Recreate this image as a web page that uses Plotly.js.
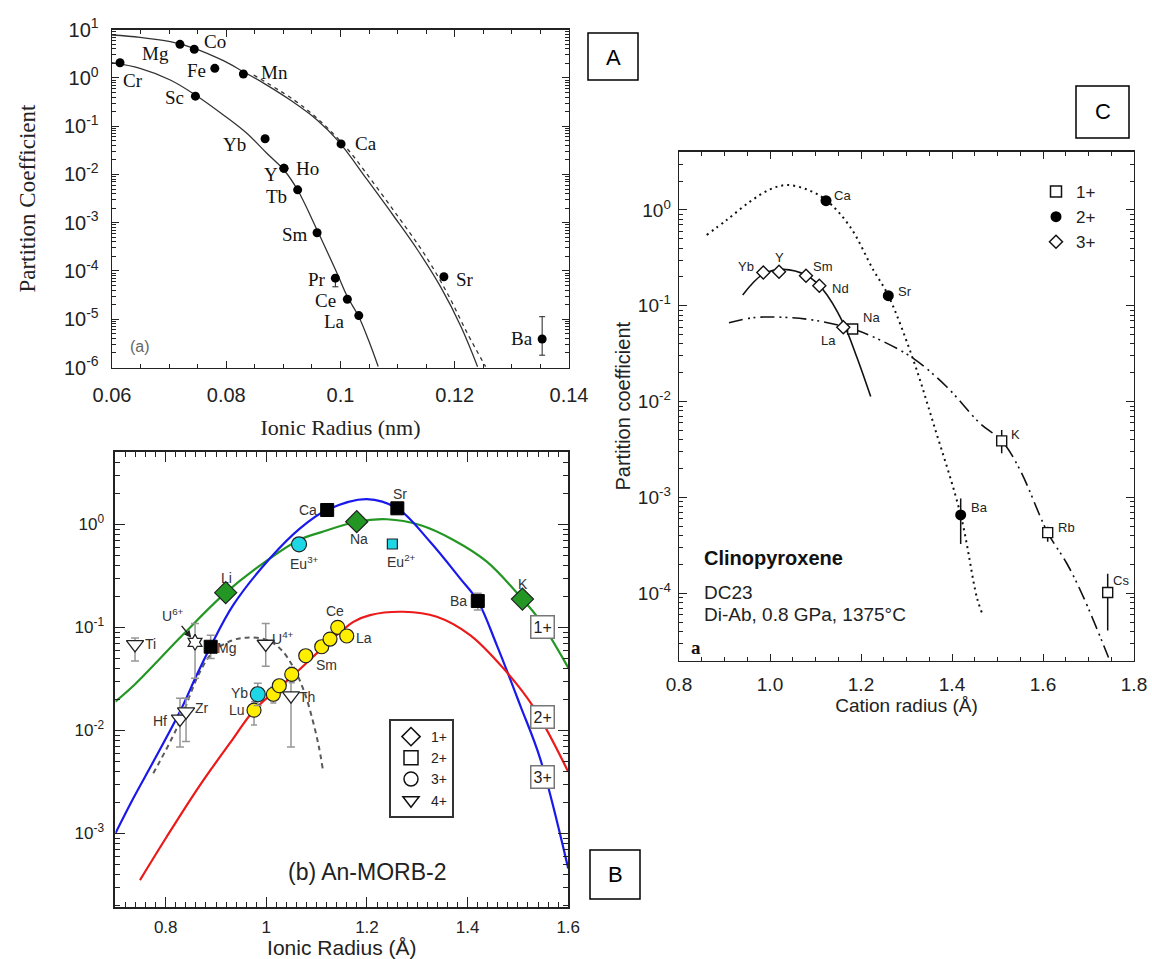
<!DOCTYPE html>
<html>
<head>
<meta charset="utf-8">
<script src="https://cdn.plot.ly/plotly-3.0.1.min.js"></script>
<style>
html,body{margin:0;padding:0;background:#ffffff;}
#chart{width:1152px;height:959px;}
</style>
</head>
<body>
<div id="chart"></div>
<script>
// ================= DATA =================
// ---- Panel A : partition coefficient vs ionic radius (nm)
const aNames  = ["Cr","Mg","Co","Fe","Mn","Sc","Yb","Y","Ho","Tb","Sm","Pr","Ce","La","Ca","Sr","Ba"];
const aRadius = [0.0614,0.0719,0.0744,0.0780,0.0830,0.0746,0.0868,0.0901,0.0901,0.0925,0.0959,0.0991,0.1012,0.1032,0.1001,0.1181,0.1353];
const aKd     = [2.07,4.98,3.93,1.58,1.21,0.42,0.055,0.0134,0.0134,0.0048,6.2e-4,7.1e-5,2.6e-5,1.19e-5,0.043,7.6e-5,3.9e-6];
const aErrPlus  = [0,0,0,0,0,0,0,0,0,0,0,1.0e-5,0,0,0,0,7.4e-6];
const aErrMinus = [0,0,0,0,0,0,0,0,0,0,0,2.4e-5,0,0,0,0,2.1e-6];

const aFit2Radius = [0.0600,0.0649,0.0702,0.0744,0.0795,0.0830,0.0866,0.0912,0.0959,0.0997,0.1047,0.1094,0.1135,0.1175,0.1211,0.1240];
const aFit2Kd     = [7.76,6.95,5.64,4.12,2.28,1.35,0.774,0.349,0.135,0.0478,0.00769,0.00133,2.72e-4,4.73e-5,7.0e-6,1.04e-6];
const aFit2bRadius = [0.0848,0.0936,0.1006,0.1058,0.1105,0.1146,0.1187,0.1222,0.1254];
const aFit2bKd     = [1.15,0.247,0.0408,0.00661,0.00114,2.33e-4,3.45e-5,5.12e-6,1.04e-6];
const aFit3Radius = [0.0600,0.0649,0.0702,0.0746,0.0795,0.0836,0.0871,0.0901,0.0925,0.0959,0.0994,0.1012,0.1032,0.1049,0.1066];
const aFit3Kd     = [2.07,1.58,0.908,0.444,0.171,0.0713,0.0275,0.0124,0.00476,7.08e-4,8.95e-5,2.95e-5,1.13e-5,3.72e-6,1.05e-6];

const aXTicks = [0.06,0.08,0.10,0.12,0.14];
const aXTickText = ["0.06","0.08","0.1","0.12","0.14"];
const aYTickVals = [1e-6,1e-5,1e-4,1e-3,1e-2,1e-1,1,10];
const aYTickText = ["10<sup>-6</sup>","10<sup>-5</sup>","10<sup>-4</sup>","10<sup>-3</sup>","10<sup>-2</sup>","10<sup>-1</sup>","10<sup>0</sup>","10<sup>1</sup>"];

// ---- Panel B : An-MORB-2 (ionic radius, Å)
const b1Names = ["Li","Na","K"];
const b1Radius = [0.9193,1.1797,1.509];
const b1Kd = [0.217,1.06,0.188];

const b2Names = ["Mg","Ca","Sr","Ba"];
const b2Radius = [0.8894,1.1209,1.2604,1.4203];
const b2Kd = [0.0648,1.377,1.43,0.180];
const b2ErrPlus = [0.019,0,0,0.034];
const b2ErrMinus = [0.015,0,0,0.033];

const bEu2Radius = [1.2505];
const bEu2Kd = [0.644];

const b3Names = ["Lu","Ho","Dy","Gd","Sm","Nd","Pr","Ce","La"];
const b3Radius = [0.9755,1.0139,1.0258,1.0505,1.0783,1.1101,1.1266,1.1419,1.1598];
const b3Kd = [0.0157,0.0224,0.0271,0.035,0.053,0.0648,0.0769,0.100,0.0824];
const b3ErrPlus = [0.0033,0.004,0.004,0.006,0.007,0.008,0.009,0.012,0.009];
const b3ErrMinus = [0.0044,0.004,0.004,0.006,0.007,0.008,0.009,0.012,0.009];

const bCyanNames = ["Yb","Eu3+"];
const bCyanRadius = [0.983,1.065];
const bCyanKd = [0.0224,0.64];
const bCyanErrPlus = [0.0062,0];
const bCyanErrMinus = [0.005,0];

const b4Names = ["Ti","Hf","Zr","U4+","Th"];
const b4Radius = [0.739,0.8284,0.8404,0.9988,1.049];
const b4Kd = [0.0684,0.0129,0.0152,0.0689,0.0217];
const b4ErrPlus = [0.0106,0.0076,0.0053,0.040,0.0127];
const b4ErrMinus = [0.0214,0.006,0.0074,0.027,0.0148];

const bU6Radius = [0.8583];
const bU6Kd = [0.0715];
const bU6ErrPlus = [0.0375];
const bU6ErrMinus = [0.0395];

const bFit1Radius = [0.70,0.739,0.835,0.9193,1.0073,1.065,1.108,1.1797,1.2394,1.3054,1.3718,1.4382,1.5089,1.5408,1.60];
const bFit1Kd = [0.0190,0.0280,0.0855,0.217,0.468,0.705,0.836,1.06,1.12,0.984,0.705,0.434,0.188,0.122,0.0406];
const bFit2Radius = [0.70,0.7356,0.7753,0.8284,0.8616,0.888,0.9344,1.0073,1.067,1.1201,1.1996,1.2604,1.3254,1.3851,1.4203,1.458,1.5044,1.5441,1.60];
const bFit2Kd = [0.0010,0.00219,0.00495,0.0152,0.0344,0.0634,0.165,0.468,0.914,1.377,1.76,1.43,0.678,0.299,0.180,0.0673,0.0176,0.00535,4.57e-4];
const bFit3Radius = [0.7489,0.802,0.8682,0.9344,0.9755,1.05,1.11,1.173,1.2062,1.2723,1.3388,1.405,1.4712,1.5308,1.60];
const bFit3Kd = [3.52e-4,9.27e-4,0.00294,0.00836,0.0157,0.033,0.0617,0.113,0.1315,0.1416,0.1268,0.0841,0.040,0.0169,0.00396];
const bFit4Radius = [0.7753,0.8219,0.8682,0.8946,0.93,0.96,1.0,1.03,1.055,1.075,1.092,1.104,1.112];
const bFit4Kd = [0.00383,0.01045,0.0371,0.0579,0.0741,0.0794,0.0759,0.0603,0.0398,0.024,0.0126,0.00708,0.00427];

const bYTickVals = [1e-3,1e-2,1e-1,1];
const bYTickText = ["10<sup>-3</sup>","10<sup>-2</sup>","10<sup>-1</sup>","10<sup>0</sup>"];
const bLegendNames = ["1+","2+","3+","4+"];
const bFitNames = ["1+","2+","3+"];
const bFitNameLogKd = [-1.0,-1.868,-2.456];

// ---- Panel C : Clinopyroxene DC23 (cation radius, Å)
const c1Names = ["Na","K","Rb","Cs"];
const c1Radius = [1.1817,1.5092,1.6103,1.7422];
const c1Kd = [0.0573,0.0039,4.3e-4,1.02e-4];
const c1ErrPlus = [0,0.00116,0.65e-4,0.58e-4];
const c1ErrMinus = [0,0.00101,0.84e-4,0.61e-4];

const c2Names = ["Ca","Sr","Ba"];
const c2Radius = [1.1231,1.26,1.4191];
const c2Kd = [1.25,0.1276,6.57e-4];
const c2ErrPlus = [0,0,3.2e-4];
const c2ErrMinus = [0,0,3.3e-4];

const c3Names = ["Yb","Y","Sm","Nd","La"];
const c3Radius = [0.9853,1.0198,1.0791,1.1084,1.1611];
const c3Kd = [0.222,0.227,0.206,0.162,0.0597];

const cFit1Radius = [0.9099,0.9633,1.0292,1.1026,1.1817,1.2418,1.3149,1.3883,1.4615,1.5092,1.5495,1.6103,1.6521,1.6886,1.744];
const cFit1Kd = [0.0667,0.0752,0.0759,0.070,0.0573,0.044,0.0283,0.0143,0.00594,0.00392,0.00194,4.3e-4,2.06e-4,9.2e-5,2.14e-5];
const cFit2Radius = [0.8609,0.9048,0.956,1.0,1.0367,1.0807,1.1231,1.1758,1.227,1.26,1.315,1.359,1.4191,1.4543,1.4655];
const cFit2Kd = [0.548,0.787,1.22,1.64,1.82,1.64,1.27,0.67,0.237,0.128,0.0272,0.00594,6.56e-4,9.2e-5,6.3e-5];
const cFit3Radius = [0.94,0.985,1.0292,1.0807,1.1171,1.1611,1.1905,1.2213];
const cFit3Kd = [0.130,0.214,0.240,0.207,0.146,0.0658,0.0294,0.0113];

const cYTickVals = [1e-4,1e-3,1e-2,1e-1,1];
const cYTickText = ["10<sup>-4</sup>","10<sup>-3</sup>","10<sup>-2</sup>","10<sup>-1</sup>","10<sup>0</sup>"];
const cLegendNames = ["1+","2+","3+"];

// ================= STYLE =================
const SERIF = "Liberation Serif, Times New Roman, serif";
const SANS = "Liberation Sans, Arial, sans-serif";
const GREEN = "rgb(35,150,35)", BLUE = "rgb(25,25,235)", RED = "rgb(235,25,25)";
const YELLOW = "rgb(255,238,0)", CYAN = "rgb(30,215,230)", ERRGREY = "rgb(150,150,150)";

// label offsets in pixels [xshift, yshift]
const aLabelShift = {Cr:[13,-18],Mg:[-24,-9],Co:[21,8],Fe:[-18,-2],Mn:[31,1],Sc:[-21,-1],Yb:[-31,-6],
  Y:[-13,-6],Ho:[24,0],Tb:[-21,-7],Sm:[-22,-2],Pr:[-18,-1],Ce:[-22,-1],La:[-24,-6],Ca:[25,0],Sr:[21,-3],Ba:[-20,0]};
const bLabelShift = {Li:[1,15],Na:[2,-17],K:[1,15],Mg:[16,-1],Ca:[-19,0],Sr:[3,14],Ba:[-19,0],
  Lu:[-17,0],Sm:[21,-9],Ce:[-3,16],La:[17,-2],Yb:[-18,1],"Eu3+":[5,-19],"Eu2+":[9,-17],
  Ti:[15,0],Hf:[-20,-2],Zr:[16,4],"U4+":[17,6],Th:[16,-1]};
const bShownLabels = ["Lu","Sm","Ce","La"];
const cLabelShift = {Ca:[16,5],Yb:[-17,6],Y:[0,14],Sm:[17,9],Nd:[21,-3],La:[-15,-13],Na:[19,11],
  Sr:[17,4],K:[14,6],Ba:[19,7],Rb:[19,5],Cs:[13,12]};

function labelText(n){
  const m = n.match(/^([A-Za-z]+)(\d\+)$/);
  return m ? m[1] + "<sup>" + m[2] + "</sup>" : n;
}
function makeLabels(names, xs, ys, shifts, xref, yref, font, only){
  const out = [];
  names.forEach((n,i)=>{
    if (only && only.indexOf(n) < 0) return;
    const s = shifts[n] || [0,0];
    out.push({x: xs[i], y: Math.log10(ys[i]), xref: xref, yref: yref, text: labelText(n),
      showarrow: false, xshift: s[0], yshift: s[1], xanchor:"center", yanchor:"middle", font: font});
  });
  return out;
}
// minor tick positions (2..9 × each decade) for log axes
function logMinorVals(loExp, hiExp){
  const v = [];
  for (let e = loExp; e <= hiExp; e++) for (let k = 2; k <= 9; k++) v.push(k * Math.pow(10, e));
  return v;
}

// ================= TRACES =================
const traces = [];
// ---- Panel A
traces.push({x:aFit2Radius, y:aFit2Kd, xaxis:"x", yaxis:"y", mode:"lines", line:{color:"#333", width:1.3, shape:"spline"}, showlegend:false, hoverinfo:"skip"});
traces.push({x:aFit2bRadius, y:aFit2bKd, xaxis:"x", yaxis:"y", mode:"lines", line:{color:"#333", width:1.3, dash:"4px,4px", shape:"spline"}, showlegend:false, hoverinfo:"skip"});
traces.push({x:aFit3Radius, y:aFit3Kd, xaxis:"x", yaxis:"y", mode:"lines", line:{color:"#333", width:1.3, shape:"spline"}, showlegend:false, hoverinfo:"skip"});
traces.push({x:aRadius, y:aKd, text:aNames, xaxis:"x", yaxis:"y", mode:"markers", marker:{color:"#000", size:9},
  error_y:{type:"data", symmetric:false, array:aErrPlus, arrayminus:aErrMinus, color:"#222", thickness:1, width:3}, showlegend:false});

// ---- Panel B
traces.push({x:bFit4Radius, y:bFit4Kd, xaxis:"x2", yaxis:"y2", mode:"lines", line:{color:"rgb(90,90,90)", width:2, dash:"5px,4px", shape:"spline"}, showlegend:false, hoverinfo:"skip"});
traces.push({x:bFit1Radius, y:bFit1Kd, xaxis:"x2", yaxis:"y2", mode:"lines", line:{color:GREEN, width:2.2, shape:"spline"}, showlegend:false, hoverinfo:"skip"});
traces.push({x:bFit2Radius, y:bFit2Kd, xaxis:"x2", yaxis:"y2", mode:"lines", line:{color:BLUE, width:2.2, shape:"spline"}, showlegend:false, hoverinfo:"skip"});
traces.push({x:bFit3Radius, y:bFit3Kd, xaxis:"x2", yaxis:"y2", mode:"lines", line:{color:RED, width:2.2, shape:"spline"}, showlegend:false, hoverinfo:"skip"});
traces.push({x:b4Radius, y:b4Kd, text:b4Names, xaxis:"x2", yaxis:"y2", mode:"markers",
  marker:{symbol:"triangle-down", size:15, color:"#fff", line:{color:"#222", width:1.3}},
  error_y:{type:"data", symmetric:false, array:b4ErrPlus, arrayminus:b4ErrMinus, color:ERRGREY, thickness:1.5, width:4}, showlegend:false});
traces.push({x:bU6Radius, y:bU6Kd, text:["U6+"], xaxis:"x2", yaxis:"y2", mode:"markers",
  marker:{symbol:"hexagram", size:12, color:"#fff", line:{color:"#222", width:1.3}},
  error_y:{type:"data", symmetric:false, array:bU6ErrPlus, arrayminus:bU6ErrMinus, color:ERRGREY, thickness:1.5, width:4}, showlegend:false});
traces.push({x:b3Radius, y:b3Kd, text:b3Names, xaxis:"x2", yaxis:"y2", mode:"markers",
  marker:{symbol:"circle", size:14, color:YELLOW, line:{color:"#222", width:1.2}},
  error_y:{type:"data", symmetric:false, array:b3ErrPlus, arrayminus:b3ErrMinus, color:ERRGREY, thickness:1.5, width:3}, showlegend:false});
traces.push({x:bCyanRadius, y:bCyanKd, text:bCyanNames, xaxis:"x2", yaxis:"y2", mode:"markers",
  marker:{symbol:"circle", size:15, color:CYAN, line:{color:"#222", width:1.2}},
  error_y:{type:"data", symmetric:false, array:bCyanErrPlus, arrayminus:bCyanErrMinus, color:ERRGREY, thickness:1.5, width:4}, showlegend:false});
traces.push({x:bEu2Radius, y:bEu2Kd, text:["Eu2+"], xaxis:"x2", yaxis:"y2", mode:"markers",
  marker:{symbol:"square", size:10, color:CYAN, line:{color:"#222", width:1.2}}, showlegend:false});
traces.push({x:b2Radius, y:b2Kd, text:b2Names, xaxis:"x2", yaxis:"y2", mode:"markers",
  marker:{symbol:"square", size:13, color:"#000", line:{color:"#000", width:1}},
  error_y:{type:"data", symmetric:false, array:b2ErrPlus, arrayminus:b2ErrMinus, color:ERRGREY, thickness:1.5, width:4}, showlegend:false});
traces.push({x:b1Radius, y:b1Kd, text:b1Names, xaxis:"x2", yaxis:"y2", mode:"markers",
  marker:{symbol:"diamond", size:17, color:GREEN, line:{color:"#222", width:1.2}}, showlegend:false});
// legend for B (symbol key)
const bLegendSymbols = ["diamond-open","square-open","circle-open","triangle-down-open"];
bLegendNames.forEach((n,i)=>{
  traces.push({x:[null], y:[null], xaxis:"x2", yaxis:"y2", mode:"markers", name:n, legend:"legend2",
    marker:{symbol:bLegendSymbols[i], size:14, color:"#111", line:{width:1.5}}, showlegend:true});
});

// ---- Panel C
traces.push({x:cFit2Radius, y:cFit2Kd, xaxis:"x3", yaxis:"y3", mode:"lines", line:{color:"#111", width:2, dash:"2px,4px", shape:"spline"}, showlegend:false, hoverinfo:"skip"});
traces.push({x:cFit1Radius, y:cFit1Kd, xaxis:"x3", yaxis:"y3", mode:"lines", line:{color:"#111", width:1.6, dash:"14px,5px,2px,4px,2px,5px", shape:"spline"}, showlegend:false, hoverinfo:"skip"});
traces.push({x:cFit3Radius, y:cFit3Kd, xaxis:"x3", yaxis:"y3", mode:"lines", line:{color:"#111", width:1.6, shape:"spline"}, showlegend:false, hoverinfo:"skip"});
traces.push({x:c1Radius, y:c1Kd, text:c1Names, xaxis:"x3", yaxis:"y3", mode:"markers",
  marker:{symbol:"square", size:10, color:"#fff", line:{color:"#111", width:1.4}},
  error_y:{type:"data", symmetric:false, array:c1ErrPlus, arrayminus:c1ErrMinus, color:"#111", thickness:1.5, width:0}, showlegend:false});
traces.push({x:c2Radius, y:c2Kd, text:c2Names, xaxis:"x3", yaxis:"y3", mode:"markers",
  marker:{symbol:"circle", size:11, color:"#000"},
  error_y:{type:"data", symmetric:false, array:c2ErrPlus, arrayminus:c2ErrMinus, color:"#111", thickness:1.5, width:0}, showlegend:false});
traces.push({x:c3Radius, y:c3Kd, text:c3Names, xaxis:"x3", yaxis:"y3", mode:"markers",
  marker:{symbol:"diamond", size:10, color:"#fff", line:{color:"#111", width:1.4}}, showlegend:false});
const cLegendMarkers = [
  {symbol:"square-open", size:11, color:"#111", line:{width:1.5}},
  {symbol:"circle", size:11, color:"#000"},
  {symbol:"diamond-open", size:10, color:"#111", line:{width:1.5}}];
cLegendNames.forEach((n,i)=>{
  traces.push({x:[null], y:[null], xaxis:"x3", yaxis:"y3", mode:"markers", name:n, legend:"legend3",
    marker:cLegendMarkers[i], showlegend:true});
});

// ================= AXES =================
function baseAxis(extra){
  return Object.assign({showline:true, mirror:"allticks", linecolor:"#222", linewidth:1.4, ticks:"inside",
    showgrid:false, zeroline:false, tickcolor:"#222"}, extra);
}
const logMinor = (len, lo, hi) => ({tickmode:"array", tickvals:logMinorVals(lo, hi), ticks:"inside", ticklen:len, showgrid:false, tickcolor:"#222"});
const W = 1152, H = 959;
const px = v => v / W, py = v => 1 - v / H;

const layout = {
  width: W, height: H, margin:{l:0,r:0,t:0,b:0}, paper_bgcolor:"#fff", plot_bgcolor:"#fff",
  showlegend:true, hovermode:false,
  // Panel A
  xaxis: baseAxis({domain:[px(112),px(569)], anchor:"y", range:[0.06,0.14], tickvals:aXTicks, ticktext:aXTickText,
    ticklen:7, minor:{ticks:"inside", ticklen:4, dtick:0.005, tick0:0.06, showgrid:false, tickcolor:"#222"},
    tickfont:{family:SANS, size:20, color:"#222"}, ticklabelstandoff:9,
    title:{text:"Ionic Radius (nm)", font:{family:SERIF, size:22, color:"#222"}, standoff:14}}),
  yaxis: baseAxis({domain:[py(367.5),py(29.7)], anchor:"x", type:"log", range:[-6,1], tickvals:aYTickVals, ticktext:aYTickText,
    ticklen:7, minor:logMinor(4,-6,0),
    tickfont:{family:SANS, size:20, color:"#222"}, ticklabelstandoff:8,
    title:{text:"Partition Coefficient", font:{family:SERIF, size:23, color:"#222"}, standoff:22}}),
  // Panel B
  xaxis2: baseAxis({domain:[px(115.4),px(568.2)], anchor:"y2", range:[0.7,1.6], dtick:0.2, tick0:0.8, linewidth:2, ticklen:10,
    minor:{ticks:"inside", ticklen:5, dtick:0.02, tick0:0.7, showgrid:false, tickcolor:"#222"},
    tickfont:{family:SANS, size:17, color:"#222"}, ticklabelstandoff:4,
    title:{text:"Ionic Radius (Å)", font:{family:SANS, size:21, color:"#222"}, standoff:6}}),
  yaxis2: baseAxis({domain:[py(906.7),py(451.7)], anchor:"x2", type:"log", range:[-3.712,0.705], tickvals:bYTickVals, ticktext:bYTickText,
    linewidth:2, ticklen:10, minor:logMinor(5,-4,0),
    tickfont:{family:SANS, size:17, color:"#222"}, ticklabelstandoff:6}),
  // Panel C
  xaxis3: baseAxis({domain:[px(679),px(1134)], anchor:"y3", range:[0.8,1.8], dtick:0.2, tick0:0.8, tickformat:".1f", ticklen:7,
    minor:{ticks:"inside", ticklen:4, dtick:0.05, tick0:0.8, showgrid:false, tickcolor:"#222"},
    tickfont:{family:SANS, size:19, color:"#222"}, ticklabelstandoff:6,
    title:{text:"Cation radius (Å)", font:{family:SANS, size:19, color:"#222"}, standoff:4}}),
  yaxis3: baseAxis({domain:[py(660.7),py(151.7)], anchor:"x3", type:"log", range:[-4.703,0.608], tickvals:cYTickVals, ticktext:cYTickText,
    ticklen:8, minor:logMinor(4,-5,0),
    tickfont:{family:SANS, size:19, color:"#222"}, ticklabelstandoff:3,
    title:{text:"Partition coefficient", font:{family:SANS, size:20, color:"#222"}, standoff:2}}),
  legend: {visible:false},
  legend2: {x:px(389), y:py(719), xanchor:"left", yanchor:"top", bgcolor:"#fff", bordercolor:"#333", borderwidth:2,
    font:{family:SANS, size:14, color:"#222"}, tracegroupgap:0, itemwidth:30},
  legend3: {x:px(1036), y:py(174), xanchor:"left", yanchor:"top", bgcolor:"rgba(0,0,0,0)", borderwidth:0,
    font:{family:SANS, size:17, color:"#222"}, tracegroupgap:0, itemwidth:30},
  shapes: [
    {type:"rect", xref:"paper", yref:"paper", x0:px(588), x1:px(638), y0:py(80), y1:py(33), line:{color:"#000", width:1.5}},
    {type:"rect", xref:"paper", yref:"paper", x0:px(590), x1:px(640), y0:py(899), y1:py(850), line:{color:"#000", width:1.5}},
    {type:"rect", xref:"paper", yref:"paper", x0:px(1076), x1:px(1129), y0:py(138), y1:py(86), line:{color:"#000", width:1.5}}
  ],
  annotations: []
};

const ann = layout.annotations;
// panel letters
[["A",613,57],["B",615,874.5],["C",1102.5,112]].forEach(t=>{
  ann.push({x:px(t[1]), y:py(t[2]), xref:"paper", yref:"paper", xanchor:"center", yanchor:"middle", text:t[0], showarrow:false,
    font:{family:SANS, size:22, color:"#000"}});
});
// Panel A labels
const aFont = {family:SERIF, size:19, color:"#111"};
ann.push(...makeLabels(aNames, aRadius, aKd, aLabelShift, "x", "y", aFont));
ann.push({x:0.0649, y:Math.log10(2.7e-6), xref:"x", yref:"y", text:"(a)", showarrow:false, font:{family:SANS, size:16, color:"#666"}});
// Panel B labels
const bFont = {family:SANS, size:14, color:"#333"};
ann.push(...makeLabels(b1Names, b1Radius, b1Kd, bLabelShift, "x2", "y2", bFont));
ann.push(...makeLabels(b2Names, b2Radius, b2Kd, bLabelShift, "x2", "y2", bFont));
ann.push(...makeLabels(["Eu2+"], bEu2Radius, bEu2Kd, bLabelShift, "x2", "y2", bFont));
ann.push(...makeLabels(b3Names, b3Radius, b3Kd, bLabelShift, "x2", "y2", bFont, bShownLabels));
ann.push(...makeLabels(bCyanNames, bCyanRadius, bCyanKd, bLabelShift, "x2", "y2", bFont));
ann.push(...makeLabels(b4Names, b4Radius, b4Kd, bLabelShift, "x2", "y2", bFont));
ann.push({x:bU6Radius[0], y:Math.log10(bU6Kd[0]), xref:"x2", yref:"y2", text:"U<sup>6+</sup>", showarrow:true,
  ax:-22, ay:-27, arrowhead:2, arrowsize:1, arrowwidth:1.4, arrowcolor:"#222", standoff:6, font:bFont});
bFitNames.forEach((n,i)=>{
  ann.push({x:1.548, y:bFitNameLogKd[i], xref:"x2", yref:"y2", text:n, showarrow:false, bgcolor:"#fff",
    bordercolor:"#777", borderwidth:1.5, borderpad:2, font:{family:SANS, size:16, color:"#222"}});
});
ann.push({x:1.2004, y:-3.373, xref:"x2", yref:"y2", text:"(b) An-MORB-2", showarrow:false, font:{family:SANS, size:23, color:"#222"}});
// Panel C labels
const cFont = {family:SANS, size:13, color:"#222"};
ann.push(...makeLabels(c1Names, c1Radius, c1Kd, cLabelShift, "x3", "y3", cFont));
ann.push(...makeLabels(c2Names, c2Radius, c2Kd, cLabelShift, "x3", "y3", cFont));
ann.push(...makeLabels(c3Names, c3Radius, c3Kd, cLabelShift, "x3", "y3", cFont));
ann.push({x:0.8499, y:-3.635, xref:"x3", yref:"y3", xanchor:"left", text:"<b>Clinopyroxene</b>", showarrow:false, font:{family:SANS, size:20, color:"#111"}});
ann.push({x:0.8499, y:-3.99, xref:"x3", yref:"y3", xanchor:"left", text:"DC23", showarrow:false, font:{family:SANS, size:19, color:"#222"}});
ann.push({x:0.8499, y:-4.22, xref:"x3", yref:"y3", xanchor:"left", text:"Di-Ab, 0.8 GPa, 1375°C", showarrow:false, font:{family:SANS, size:19, color:"#222"}});
ann.push({x:0.8378, y:-4.56, xref:"x3", yref:"y3", text:"<b>a</b>", showarrow:false, font:{family:SERIF, size:19, color:"#111"}});

Plotly.newPlot("chart", traces, layout, {staticPlot:true, displayModeBar:false});
</script>
</body>
</html>
